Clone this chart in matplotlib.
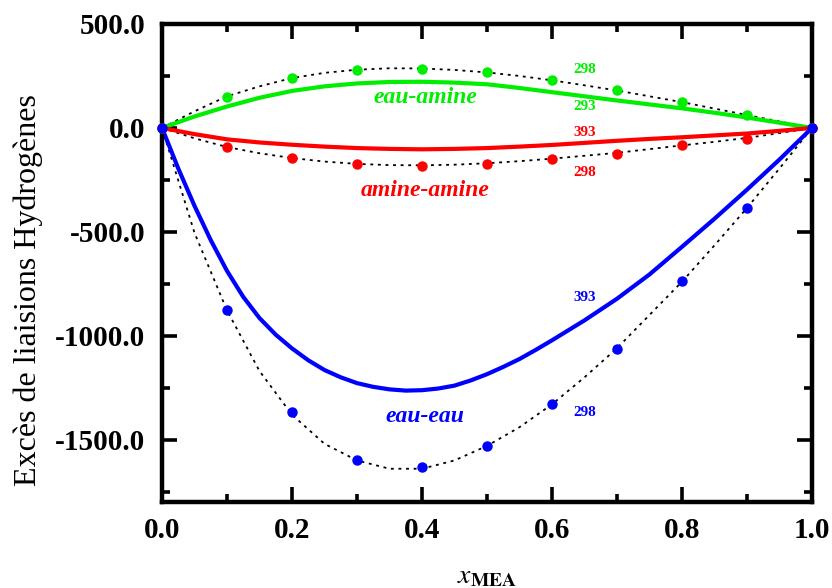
import numpy as np
import matplotlib
matplotlib.use('Agg')
import matplotlib.pyplot as plt
from matplotlib.ticker import MultipleLocator, FormatStrFormatter

plt.rcParams['font.family'] = ['Liberation Serif', 'DejaVu Serif']
plt.rcParams['mathtext.fontset'] = 'stix'
plt.rcParams['axes.unicode_minus'] = False

# ---- data ----
x_pts = [0.0, 0.1, 0.2, 0.3, 0.4, 0.5, 0.6, 0.7, 0.8, 0.9, 1.0]
eau_amine_298 = [0, 151, 239, 279, 285, 268, 231, 181, 124, 61, 0]
amine_amine_298 = [0, -90, -143, -175, -181, -172, -149, -124, -83, -53, 0]
eau_eau_298 = [0, -875, -1369, -1596, -1631, -1529, -1330, -1062, -739, -386, 0]

x_fit = [0.0, 0.05, 0.1, 0.15, 0.2, 0.25, 0.3, 0.35, 0.4, 0.45, 0.5,
         0.55, 0.6, 0.65, 0.7, 0.75, 0.8, 0.85, 0.9, 0.95, 1.0]
# dotted fits through the 298 points
fit_eau_amine = [0, 80, 152, 200, 240, 265, 280, 287, 286, 279, 267,
                 250, 229, 205, 180, 152, 124, 93, 62, 31, 0]
fit_amine_amine = [0, -50, -92, -122, -145, -162, -173, -179, -180, -177, -170,
                   -160, -148, -134, -120, -102, -84, -67, -48, -25, 0]
fit_eau_eau = [0, -505, -878, -1170, -1380, -1520, -1600, -1640, -1640, -1600, -1530,
               -1440, -1330, -1200, -1060, -900, -740, -565, -385, -195, 0]
# solid curves (high temperature)
eau_amine_293 = [0, 55, 103, 145, 178, 200, 214, 221, 222, 218, 210,
                 192, 172, 152, 132, 113, 94, 73, 50, 25, 0]
amine_amine_393 = [0, -30, -55, -70, -81, -90, -97, -101, -103, -101, -97,
                   -90, -82, -72, -62, -53, -45, -36, -27, -14, 0]
# eau-eau 393 read on a finer step
x_blue = [0.0, 0.025, 0.05, 0.075, 0.1, 0.125, 0.15, 0.175, 0.2, 0.225, 0.25,
          0.275, 0.3, 0.325, 0.35, 0.375, 0.4, 0.425, 0.45, 0.475, 0.5,
          0.525, 0.55, 0.575, 0.6, 0.65, 0.7, 0.75, 0.8, 0.85, 0.9, 0.95, 1.0]
eau_eau_393 = [0, -195, -375, -540, -688, -813, -915, -995, -1061, -1118, -1165,
               -1200, -1228, -1246, -1258, -1264, -1262, -1254, -1240, -1215, -1185,
               -1150, -1112, -1068, -1022, -926, -822, -705, -572, -437, -297, -152, 0]

green = '#00ee00'
red = '#ff0000'
blue = '#0000ff'

fig = plt.figure(figsize=(8.32, 5.88), dpi=100)
ax = fig.add_axes([162 / 832, 1 - 502 / 588, 650 / 832, 478 / 588])

dot_style = dict(color='black', linestyle=(0, (1.6, 2.6)), linewidth=1.3)
ax.plot(x_fit, fit_eau_amine, **dot_style)
ax.plot(x_fit, fit_amine_amine, **dot_style)
ax.plot(x_fit, fit_eau_eau, **dot_style)

ax.plot(x_fit, eau_amine_293, color=green, lw=3)
ax.plot(x_fit, amine_amine_393, color=red, lw=3)
ax.plot(x_blue, eau_eau_393, color=blue, lw=3)

for vals, c in [(eau_amine_298, green), (amine_amine_298, red), (eau_eau_298, blue)]:
    ax.plot(x_pts, vals, 'o', color=c, ms=6.5, clip_on=False, zorder=5)

ax.set_xlim(0, 1)
ax.set_ylim(-1800, 500)

ax.xaxis.set_major_locator(MultipleLocator(0.2))
ax.xaxis.set_minor_locator(MultipleLocator(0.1))
ax.yaxis.set_major_locator(MultipleLocator(500))
ax.yaxis.set_minor_locator(MultipleLocator(250))
ax.xaxis.set_major_formatter(FormatStrFormatter('%.1f'))
ax.yaxis.set_major_formatter(FormatStrFormatter('%.1f'))

for s in ax.spines.values():
    s.set_linewidth(3.2)
ax.tick_params(which='both', direction='in', top=True, right=True, width=2.6)
ax.tick_params(which='major', length=11, pad=11, labelsize=21)
ax.tick_params(axis='y', which='major', pad=12)
ax.tick_params(which='minor', length=5.5)
for lab in ax.get_xticklabels() + ax.get_yticklabels():
    lab.set_fontweight('bold')

# curve names
name_kw = dict(fontsize=17, fontweight='bold', fontstyle='italic', ha='center', va='center')
ax.text(0.405, 147, 'eau-amine', color=green, **name_kw)
ax.text(0.405, -301, 'amine-amine', color=red, **name_kw)
ax.text(0.405, -1388, 'eau-eau', color=blue, **name_kw)

# temperatures
t_kw = dict(fontsize=11, fontweight='bold', ha='center', va='center')
ax.text(0.65, 279, '298', color=green, **t_kw)
ax.text(0.65, 103, '293', color=green, **t_kw)
ax.text(0.65, -21, '393', color=red, **t_kw)
ax.text(0.65, -215, '298', color=red, **t_kw)
ax.text(0.65, -814, '393', color=blue, **t_kw)
ax.text(0.65, -1368, '298', color=blue, **t_kw)

fig.text(28 / 832, 1 - 290 / 588, 'Excès de liaisions Hydrogènes', rotation=90,
         ha='center', va='center', fontsize=23)
fig.text(487 / 832, 1 - 583 / 588, r'$x_{\mathbf{MEA}}$', ha='center', va='baseline',
         fontsize=20)

fig.savefig('out.png', dpi=100)
